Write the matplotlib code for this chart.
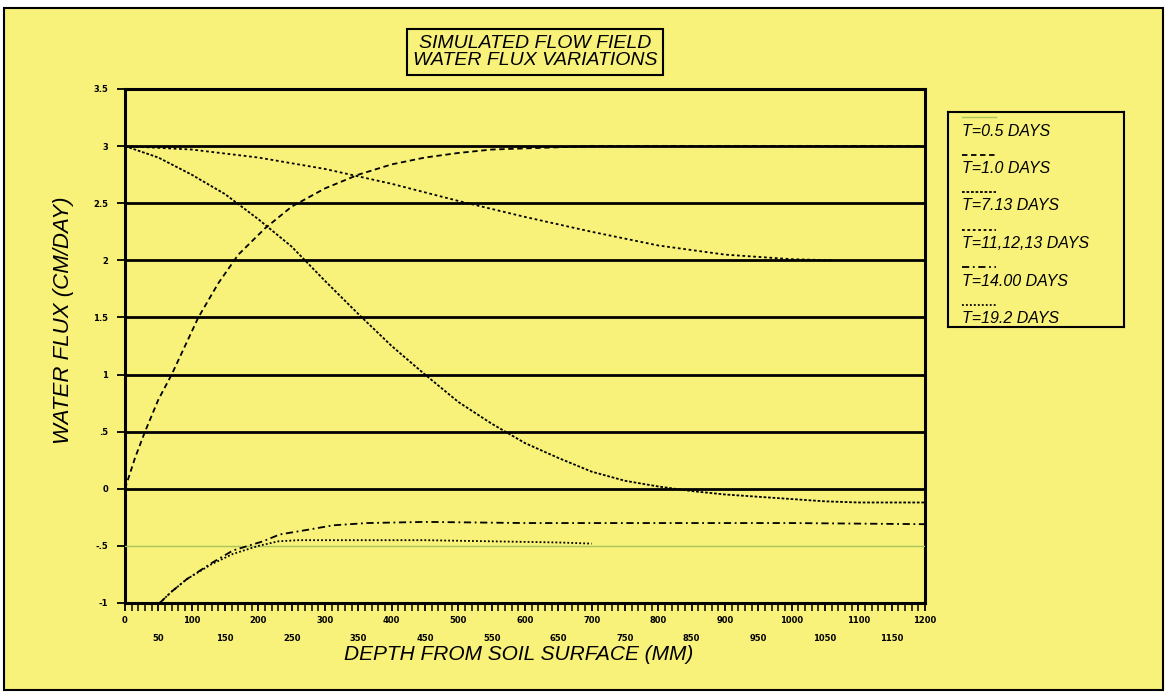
import numpy as np
import matplotlib
matplotlib.use("Agg")
import matplotlib.pyplot as plt
from matplotlib.patches import Rectangle
from matplotlib.lines import Line2D

# ---- data ----
depth_05 = [0, 1200]
flux_05 = [-0.5, -0.5]

depth_10 = [0, 15, 30, 50, 70, 90, 110, 140, 170, 210, 250, 300, 350, 400,
            450, 500, 550, 600, 650, 700, 800, 900, 1000, 1100, 1200]
flux_10 = [0.0, 0.27, 0.5, 0.78, 1.0, 1.25, 1.5, 1.8, 2.05, 2.28, 2.47, 2.63,
           2.75, 2.84, 2.9, 2.94, 2.97, 2.98, 2.99, 3.0, 3.0, 3.0, 3.0, 3.0, 3.0]

depth_713 = [0, 50, 100, 150, 200, 250, 300, 350, 400, 450, 500, 550, 600,
             650, 700, 750, 800, 850, 900, 950, 1000, 1050, 1100, 1150, 1200]
flux_713 = [3.0, 2.9, 2.75, 2.58, 2.36, 2.12, 1.82, 1.53, 1.25, 1.0, 0.76, 0.57,
            0.4, 0.27, 0.15, 0.07, 0.02, -0.02, -0.05, -0.07, -0.09, -0.11,
            -0.12, -0.12, -0.12]

depth_1113 = [0, 100, 200, 300, 400, 500, 600, 700, 800, 900, 1000, 1060]
flux_1113 = [3.0, 2.97, 2.9, 2.8, 2.67, 2.52, 2.38, 2.25, 2.13, 2.05, 2.01, 2.0]

depth_14 = [52, 70, 93, 130, 162, 207, 232, 273, 312, 363, 450, 600, 800,
            1000, 1200]
flux_14 = [-1.0, -0.9, -0.79, -0.65, -0.54, -0.46, -0.4, -0.36, -0.32, -0.3,
           -0.29, -0.3, -0.3, -0.3, -0.31]

depth_192 = [52, 70, 93, 130, 162, 200, 230, 260, 350, 450, 550, 650, 700]
flux_192 = [-1.0, -0.9, -0.79, -0.66, -0.57, -0.5, -0.46, -0.45, -0.45,
            -0.45, -0.46, -0.47, -0.48]

labels = ["T=0.5 DAYS", "T=1.0 DAYS", "T=7.13 DAYS", "T=11,12,13 DAYS",
          "T=14.00 DAYS", "T=19.2 DAYS"]

BG = "#F8F17A"
FONT = ["Liberation Sans Narrow", "Liberation Sans", "DejaVu Sans"]
W, H = 1167, 693

series = [
    (depth_05, flux_05, dict(color="#A9C45C", lw=1.0, ls="-")),
    (depth_10, flux_10, dict(color="black", lw=1.3, ls=(0, (3, 2)))),
    (depth_713, flux_713, dict(color="black", lw=1.3, ls=(0, (1.5, 1)))),
    (depth_1113, flux_1113, dict(color="black", lw=1.3, ls=(0, (1.5, 1.5)))),
    (depth_14, flux_14, dict(color="black", lw=1.3, ls=(0, (4, 2, 1, 2)))),
    (depth_192, flux_192, dict(color="black", lw=1.3, ls=(0, (1, 1.2)))),
]

fig = plt.figure(figsize=(W / 100, H / 100), dpi=100, facecolor="white")

# yellow panel with black border (behind everything)
fig.patches.append(Rectangle((4 / W, 3 / H), 1159 / W, 682 / H,
                             transform=fig.transFigure, fc=BG, ec="black",
                             lw=1.5, zorder=-5))

ax = fig.add_axes([125 / W, (H - 603) / H, 800 / W, 514 / H])
ax.set_facecolor(BG)
ax.set_xlim(0, 1200)
ax.set_ylim(-1, 3.5)

for yv in np.arange(0, 3.51, 0.5):
    ax.axhline(yv, color="black", lw=2, zorder=1)

for x, y, st in series:
    ax.plot(x, y, zorder=3, **st)

for s in ax.spines.values():
    s.set_linewidth(2.2)

ax.set_yticks(np.arange(-1, 3.51, 0.5))
ax.set_yticklabels(["-1", "-.5", "0", ".5", "1", "1.5", "2", "2.5", "3", "3.5"],
                   fontsize=6, fontweight="bold")
xt = np.arange(0, 1201, 50)
ax.set_xticks(xt)
ax.set_xticklabels([str(v) if v % 100 == 0 else "\n" + str(v) for v in xt],
                   fontsize=6, fontweight="bold", linespacing=2.2)
ax.set_xticks(np.arange(0, 1201, 10), minor=True)
ax.tick_params(axis="both", direction="out", width=1.3, length=6)
ax.tick_params(axis="x", which="minor", direction="out", width=1.1, length=6)
ax.tick_params(axis="y", pad=6)

fig.text(519 / W, 1 - 655 / H, "DEPTH FROM SOIL SURFACE (MM)", ha="center",
         va="center", fontsize=15, style="italic", family=FONT)
fig.text(63 / W, 1 - 320 / H, "WATER FLUX (CM/DAY)", ha="center",
         va="center", rotation=90, fontsize=16, style="italic", family=FONT)

fig.text(535 / W, 1 - 52 / H, "SIMULATED FLOW FIELD\nWATER FLUX VARIATIONS",
         ha="center", va="center", fontsize=14, style="italic", family=FONT,
         linespacing=1.0,
         bbox=dict(boxstyle="square,pad=0.3", fc=BG, ec="black", lw=1.5))

# legend box, sample line above each label
leg = fig.add_axes([948 / W, (H - 327) / H, 176 / W, 215 / H])
leg.set_xlim(0, 176)
leg.set_ylim(215, 0)
leg.set_facecolor(BG)
for s in leg.spines.values():
    s.set_linewidth(1.5)
leg.set_xticks([])
leg.set_yticks([])
for i, (lab, (x, y, st)) in enumerate(zip(labels, series)):
    y0 = 5 + i * 37.5
    leg.add_line(Line2D([14, 48], [y0, y0], **st))
    leg.text(14, y0 + 14, lab, fontsize=11.5, style="italic", family=FONT,
             va="center", ha="left")

fig.savefig("out.png", dpi=100, facecolor="white")
